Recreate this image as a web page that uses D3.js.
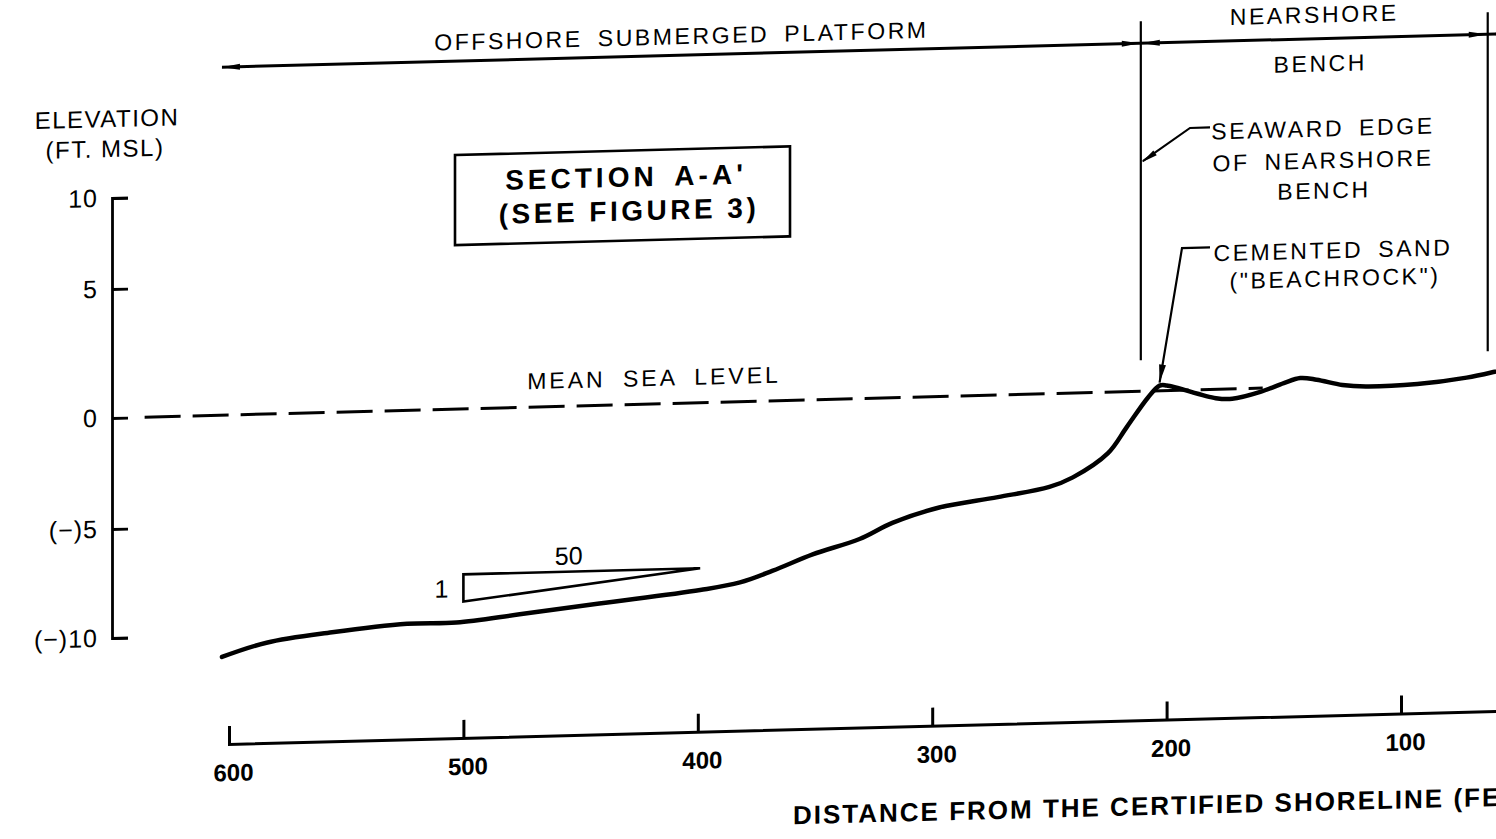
<!DOCTYPE html>
<html>
<head>
<meta charset="utf-8">
<script src="https://cdn.jsdelivr.net/npm/d3@7"></script>
<style>
body{margin:0;background:#fff;}
svg{display:block;}
text{font-family:"Liberation Sans",Arial,sans-serif;fill:#000;}
</style>
</head>
<body>
<div id="container"></div>
<script>
let w = 1496;
let h = 839;

// PROFILE - distance from shoreline in ft, elevation in ft MSL
let distance  = [603, 584, 556, 524, 503, 476, 442, 399, 382, 368, 351, 331, 317, 297, 272, 250, 240, 225, 217, 208, 203, 200, 179, 172, 160, 150, 143, 136, 125, 115, 93, 72, 60, 50];
let elevation = [-11.0, -10.4, -10.0, -9.7, -9.7, -9.4, -9.0, -8.5, -8.2, -7.7, -7.0, -6.35, -5.65, -5.0, -4.6, -4.2, -3.8, -2.75, -1.6, -0.3, 0.2, 0.2, -0.4, -0.45, -0.17, 0.17, 0.35, 0.27, 0.04, -0.05, 0.0, 0.2, 0.4, 0.6];

// AXES
let xTicks = [600, 500, 400, 300, 200, 100];
let yTicks = [10, 5, 0, -5, -10];
let yTickLabels = ["10", "5", "0", "(\u2212)5", "(\u2212)10"];

// ZONES
let zoneEdges = [211, 63];     // seaward edge of bench, landward edge
let mslExtent = [636, 159];    // where the dashed mean sea level line runs
let slopeRun = [500, 399];     // 1:50 slope symbol
let slopeRise = [-7.5, -8.75];

// the scan is sheared a bit: horizontals rise to the right
let k = 0.026;
let x0 = 112;

let svg = d3.select("#container").append("svg")
  .attr("width", w)
  .attr("height", h)
  .style("background-color", "white");

let g = svg.append("g")
  .attr("transform", "translate(0," + (k * x0) + ") skewY(" + (-Math.atan(k) * 180 / Math.PI) + ")");

// SCALES
let xScale = d3.scaleLinear().domain([600, 100]).range([229, 1401]);
let xAxisScale = d3.scaleLinear().domain([600, 40]).range([xScale(600), xScale(40)]);
// drawing's vertical scale is not even, so piecewise
let yScale = d3.scaleLinear().domain([-10, -5, 0, 5, 10]).range([638, 529, 418, 289, 198]);

function arrowHead(sel, x1, y1, x2, y2, len, half) {
  let a = Math.atan2(y2 - y1, x2 - x1);
  let bx = x2 - len * Math.cos(a), by = y2 - len * Math.sin(a);
  let px = -Math.sin(a) * half, py = Math.cos(a) * half;
  sel.append("path")
    .attr("d", "M" + x2 + "," + y2 + "L" + (bx + px) + "," + (by + py) + "L" + (bx - px) + "," + (by - py) + "Z")
    .attr("fill", "#000");
}

// Y AXIS
let yAxisG = g.append("g")
  .attr("transform", "translate(" + x0 + ",0)")
  .call(d3.axisLeft(yScale).tickValues(yTicks).tickFormat(function(d, i){ return yTickLabels[i]; }).tickSize(-16).tickPadding(14));
yAxisG.attr("font-family", null).attr("font-size", 25);
yAxisG.selectAll("path,line").attr("stroke", "#000").attr("stroke-width", 2.8);
yAxisG.selectAll("text").attr("fill", "#000").attr("letter-spacing", 1);

g.append("text").attr("x", 107).attr("y", 127).attr("text-anchor", "middle")
  .attr("font-size", 24).attr("letter-spacing", 1.5).text("ELEVATION");
g.append("text").attr("x", 105).attr("y", 157).attr("text-anchor", "middle")
  .attr("font-size", 24).attr("letter-spacing", 1.5).text("(FT. MSL)");

// X AXIS
let xAxisG = g.append("g")
  .attr("transform", "translate(0,747)")
  .call(d3.axisBottom(xAxisScale).tickValues(xTicks).tickFormat(d3.format("d")).tickSize(-18).tickPadding(20));
xAxisG.attr("font-family", null).attr("font-size", 24);
xAxisG.selectAll("path,line").attr("stroke", "#000").attr("stroke-width", 3);
xAxisG.selectAll("text").attr("fill", "#000").attr("font-weight", "bold").attr("dx", 4);

g.append("text").attr("x", 793).attr("y", 842)
  .attr("font-size", 26).attr("font-weight", "bold").attr("letter-spacing", 2)
  .text("DISTANCE FROM THE CERTIFIED SHORELINE (FEET)");

// MEAN SEA LEVEL
g.append("line")
  .attr("x1", xScale(mslExtent[0])).attr("x2", xScale(mslExtent[1]))
  .attr("y1", yScale(0)).attr("y2", yScale(0))
  .attr("stroke", "#000").attr("stroke-width", 3).attr("stroke-dasharray", "36,12");
g.append("text").attr("x", 654).attr("y", 400).attr("text-anchor", "middle")
  .attr("font-size", 23).attr("letter-spacing", 3).attr("word-spacing", 8).text("MEAN SEA LEVEL");

// PROFILE
let profile = distance.map(function(d, i){ return {d: d, e: elevation[i]}; });
let lineMaker = d3.line()
  .x(function(d){ return xScale(d.d); })
  .y(function(d){ return yScale(d.e); })
  .curve(d3.curveCatmullRom.alpha(0.5));
g.append("path").datum(profile)
  .attr("d", lineMaker)
  .attr("fill", "none").attr("stroke", "#000").attr("stroke-width", 4.5)
  .attr("stroke-linejoin", "round").attr("stroke-linecap", "round");

// SLOPE SYMBOL 1:50
let sx0 = xScale(slopeRun[0]), sx1 = xScale(slopeRun[1]);
let sy0 = yScale(slopeRise[0]), sy1 = yScale(slopeRise[1]);
g.append("path")
  .attr("d", "M" + sx1 + "," + sy0 + "L" + sx0 + "," + sy0 + "L" + sx0 + "," + sy1 + "Z")
  .attr("fill", "none").attr("stroke", "#000").attr("stroke-width", 2.6).attr("stroke-linejoin", "miter");
g.append("text").attr("x", (sx0 + sx1) / 2 - 13).attr("y", sy0 - 7).attr("text-anchor", "middle")
  .attr("font-size", 25).text("50");
g.append("text").attr("x", sx0 - 22).attr("y", (sy0 + sy1) / 2 + 9).attr("text-anchor", "middle")
  .attr("font-size", 25).text("1");

// ZONE DIMENSION LINE
let dimY = 70;
let e0 = xScale(zoneEdges[0]), e1 = xScale(zoneEdges[1]);
let leftEnd = xScale(distance[0]);
g.append("line").attr("x1", leftEnd).attr("x2", w + 40).attr("y1", dimY).attr("y2", dimY)
  .attr("stroke", "#000").attr("stroke-width", 3);
arrowHead(g, leftEnd + 20, dimY, leftEnd, dimY, 18, 3);
arrowHead(g, e0 - 20, dimY, e0 - 1, dimY, 18, 3);
arrowHead(g, e0 + 20, dimY, e0 + 1, dimY, 18, 3);
arrowHead(g, e1 - 20, dimY, e1 - 1, dimY, 18, 3);
arrowHead(g, e1 + 20, dimY, e1 + 1, dimY, 18, 3);

g.selectAll(".edge").data(zoneEdges).enter()
  .append("line")
  .attr("class", "edge")
  .attr("x1", function(d){ return xScale(d); }).attr("x2", function(d){ return xScale(d); })
  .attr("y1", 48).attr("y2", yScale(1.2))
  .attr("stroke", "#000").attr("stroke-width", 2.2);

let annot = {"font-size": 23, "letter-spacing": 2.6, "word-spacing": 6};
function label(x, y, txt, anchor) {
  let t = g.append("text").attr("x", x).attr("y", y).attr("text-anchor", anchor || "middle").text(txt);
  Object.keys(annot).forEach(function(key){ t.attr(key, annot[key]); });
  return t;
}
label((leftEnd + e0) / 2, 59, "OFFSHORE SUBMERGED PLATFORM");
label((e0 + e1) / 2, 54, "NEARSHORE");
label((e0 + e1) / 2 + 6, 103, "BENCH");

// SEAWARD EDGE callout
label(1323, 168, "SEAWARD EDGE");
label(1323, 200, "OF NEARSHORE");
label(1324, 230, "BENCH");
g.append("path").attr("d", "M1210,156L1190,156L" + (e0 + 2) + ",188")
  .attr("fill", "none").attr("stroke", "#000").attr("stroke-width", 2.2);
arrowHead(g, 1190, 156, e0 + 1, 189, 16, 3);

// BEACHROCK callout
let peak = profile.filter(function(p){ return p.d <= 205 && p.d >= 195; })[0];
let px = xScale(peak.d), py = yScale(peak.e) - 3;
label(1333, 290, "CEMENTED SAND");
label(1335, 318, "(\"BEACHROCK\")");
g.append("path").attr("d", "M1210,276L1182,276L" + px + "," + py)
  .attr("fill", "none").attr("stroke", "#000").attr("stroke-width", 2.2);
arrowHead(g, 1182, 276, px, py, 18, 3.5);

// TITLE BOX
g.append("rect").attr("x", 455).attr("y", 164).attr("width", 335).attr("height", 90)
  .attr("fill", "none").attr("stroke", "#000").attr("stroke-width", 2.6);
g.append("text").attr("x", 626).attr("y", 200).attr("text-anchor", "middle")
  .attr("font-size", 28).attr("font-weight", "bold").attr("letter-spacing", 4).attr("word-spacing", 6)
  .text("SECTION A-A'");
g.append("text").attr("x", 629).attr("y", 234).attr("text-anchor", "middle")
  .attr("font-size", 28).attr("font-weight", "bold").attr("letter-spacing", 3.5)
  .text("(SEE FIGURE 3)");
</script>
</body>
</html>
